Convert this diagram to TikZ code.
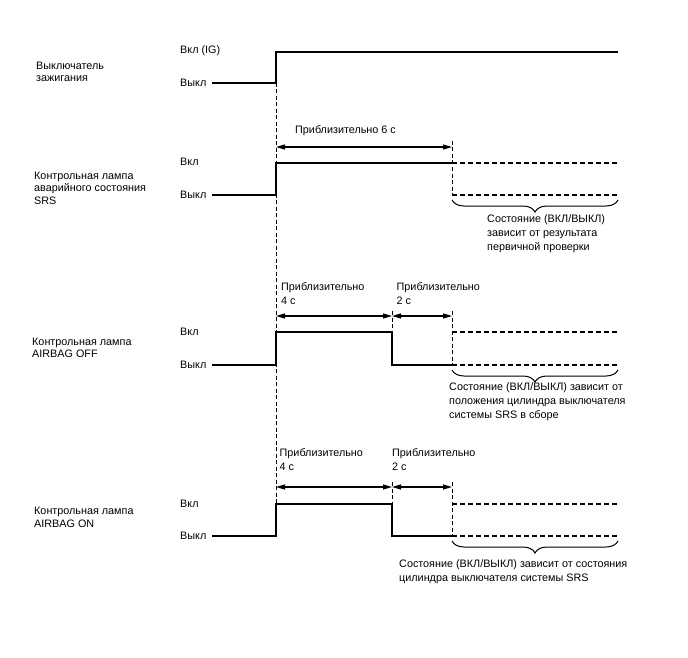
\documentclass[tikz,border=0pt]{standalone}
\usepackage{fontspec}
\setmainfont{Liberation Sans}
\usetikzlibrary{arrows.meta,decorations.pathreplacing,positioning,calc}

\begin{document}
\begin{tikzpicture}[
    x=1pt, y=-1pt,
    every node/.style={font=\fontsize{10.8}{12.6}\selectfont, inner sep=0pt},
    sig/.style={line width=1.5pt, line join=miter},
    undet/.style={line width=1.2pt, dash pattern=on 5pt off 3pt},
    guide/.style={line width=0.7pt, dash pattern=on 4pt off 2.5pt},
    dimspan/.style={{Triangle[length=9pt,width=5pt]}-{Triangle[length=9pt,width=5pt]}, line width=1.2pt},
    lvl/.style={anchor=west},
    sigtitle/.style={anchor=west, align=left},
    note/.style={anchor=north west, align=left, font=\fontsize{10.8}{14}\selectfont},
    statebrace/.style={decorate, decoration={brace, mirror, amplitude=12pt}, line width=1pt},
]
\useasboundingbox (0,0) rectangle (688,658);

% Ignition switch
\node[sigtitle] (ig) at (36,72) {Выключатель\\зажигания};
\node[lvl] (igon) at (180,50.5) {Вкл (IG)};
\node[lvl] (igoff) at (180,83) {Выкл};
\draw[guide] (276,83) -- (276,536);
\draw[sig] (212,83) -- (276,83) -- (276,52) -- (618,52);

% SRS warning lamp
\node[sigtitle] (srs) at (34,188) {Контрольная лампа\\аварийного состояния\\SRS};
\node[lvl] (srson) at (180,161.5) {Вкл};
\node[lvl] (srsoff) at (180,195) {Выкл};
\draw[guide] (452,141) -- (452,195);
\coordinate (srsa) at (276,147);
\coordinate (srsb) at (452,147);
\draw[dimspan] (srsa) -- (srsb);
\node[anchor=west] (srstime) at (295,130.7) {Приблизительно 6 с};
\draw[sig] (212,195) -- (276,195) -- (276,163) -- (452,163);
\draw[undet] (452,163) -- (618,163);
\draw[undet] (452,195) -- (618,195);
\coordinate (srsl) at (452,200);
\coordinate (srsr) at (618,200);
\draw[statebrace] (srsl) -- (srsr);
\node[note] (srsnote) at (487,214.5) {Состояние (ВКЛ/ВЫКЛ)\\зависит от результата\\первичной проверки};

% AIRBAG OFF lamp
\node[sigtitle] (off) at (32,348) {Контрольная лампа\\AIRBAG OFF};
\node[lvl] (offon) at (180,331.5) {Вкл};
\node[lvl] (offoff) at (180,365) {Выкл};
\draw[guide] (392,311) -- (392,332);
\draw[guide] (452,311) -- (452,365);
\coordinate (offa) at (276,316);
\coordinate (offb) at (392,316);
\coordinate (offc) at (452,316);
\draw[dimspan] (offa) -- (offb);
\draw[dimspan] (offb) -- (offc);
\node[note] (offt4) at (281,282.5) {Приблизительно\\4 с};
\node[note] (offt2) at (396.5,282.5) {Приблизительно\\2 с};
\draw[sig] (212,365) -- (276,365) -- (276,332) -- (392,332) -- (392,365) -- (452,365);
\draw[undet] (452,332) -- (618,332);
\draw[undet] (452,365) -- (618,365);
\coordinate (offl) at (452,370);
\coordinate (offr) at (618,370);
\draw[statebrace] (offl) -- (offr);
\node[note] (offnote) at (449,382.5) {Состояние (ВКЛ/ВЫКЛ) зависит от\\положения цилиндра выключателя\\системы SRS в сборе};

% AIRBAG ON lamp
\node[sigtitle] (on) at (34,517.5) {Контрольная лампа\\AIRBAG ON};
\node[lvl] (onon) at (180,504) {Вкл};
\node[lvl] (onoff) at (180,535.5) {Выкл};
\draw[guide] (392,482) -- (392,504);
\draw[guide] (452,482) -- (452,536);
\coordinate (ona) at (276,487);
\coordinate (onb) at (392,487);
\coordinate (onc) at (452,487);
\draw[dimspan] (ona) -- (onb);
\draw[dimspan] (onb) -- (onc);
\node[note] (ont4) at (279.5,448) {Приблизительно\\4 с};
\node[note] (ont2) at (392,448) {Приблизительно\\2 с};
\draw[sig] (212,536) -- (276,536) -- (276,504) -- (392,504) -- (392,536) -- (452,536);
\draw[undet] (452,504) -- (618,504);
\draw[undet] (452,536) -- (618,536);
\coordinate (onl) at (452,541);
\coordinate (onr) at (618,541);
\draw[statebrace] (onl) -- (onr);
\node[note] (onnote) at (399,559.5) {Состояние (ВКЛ/ВЫКЛ) зависит от состояния\\цилиндра выключателя системы SRS};

\end{tikzpicture}
\end{document}
